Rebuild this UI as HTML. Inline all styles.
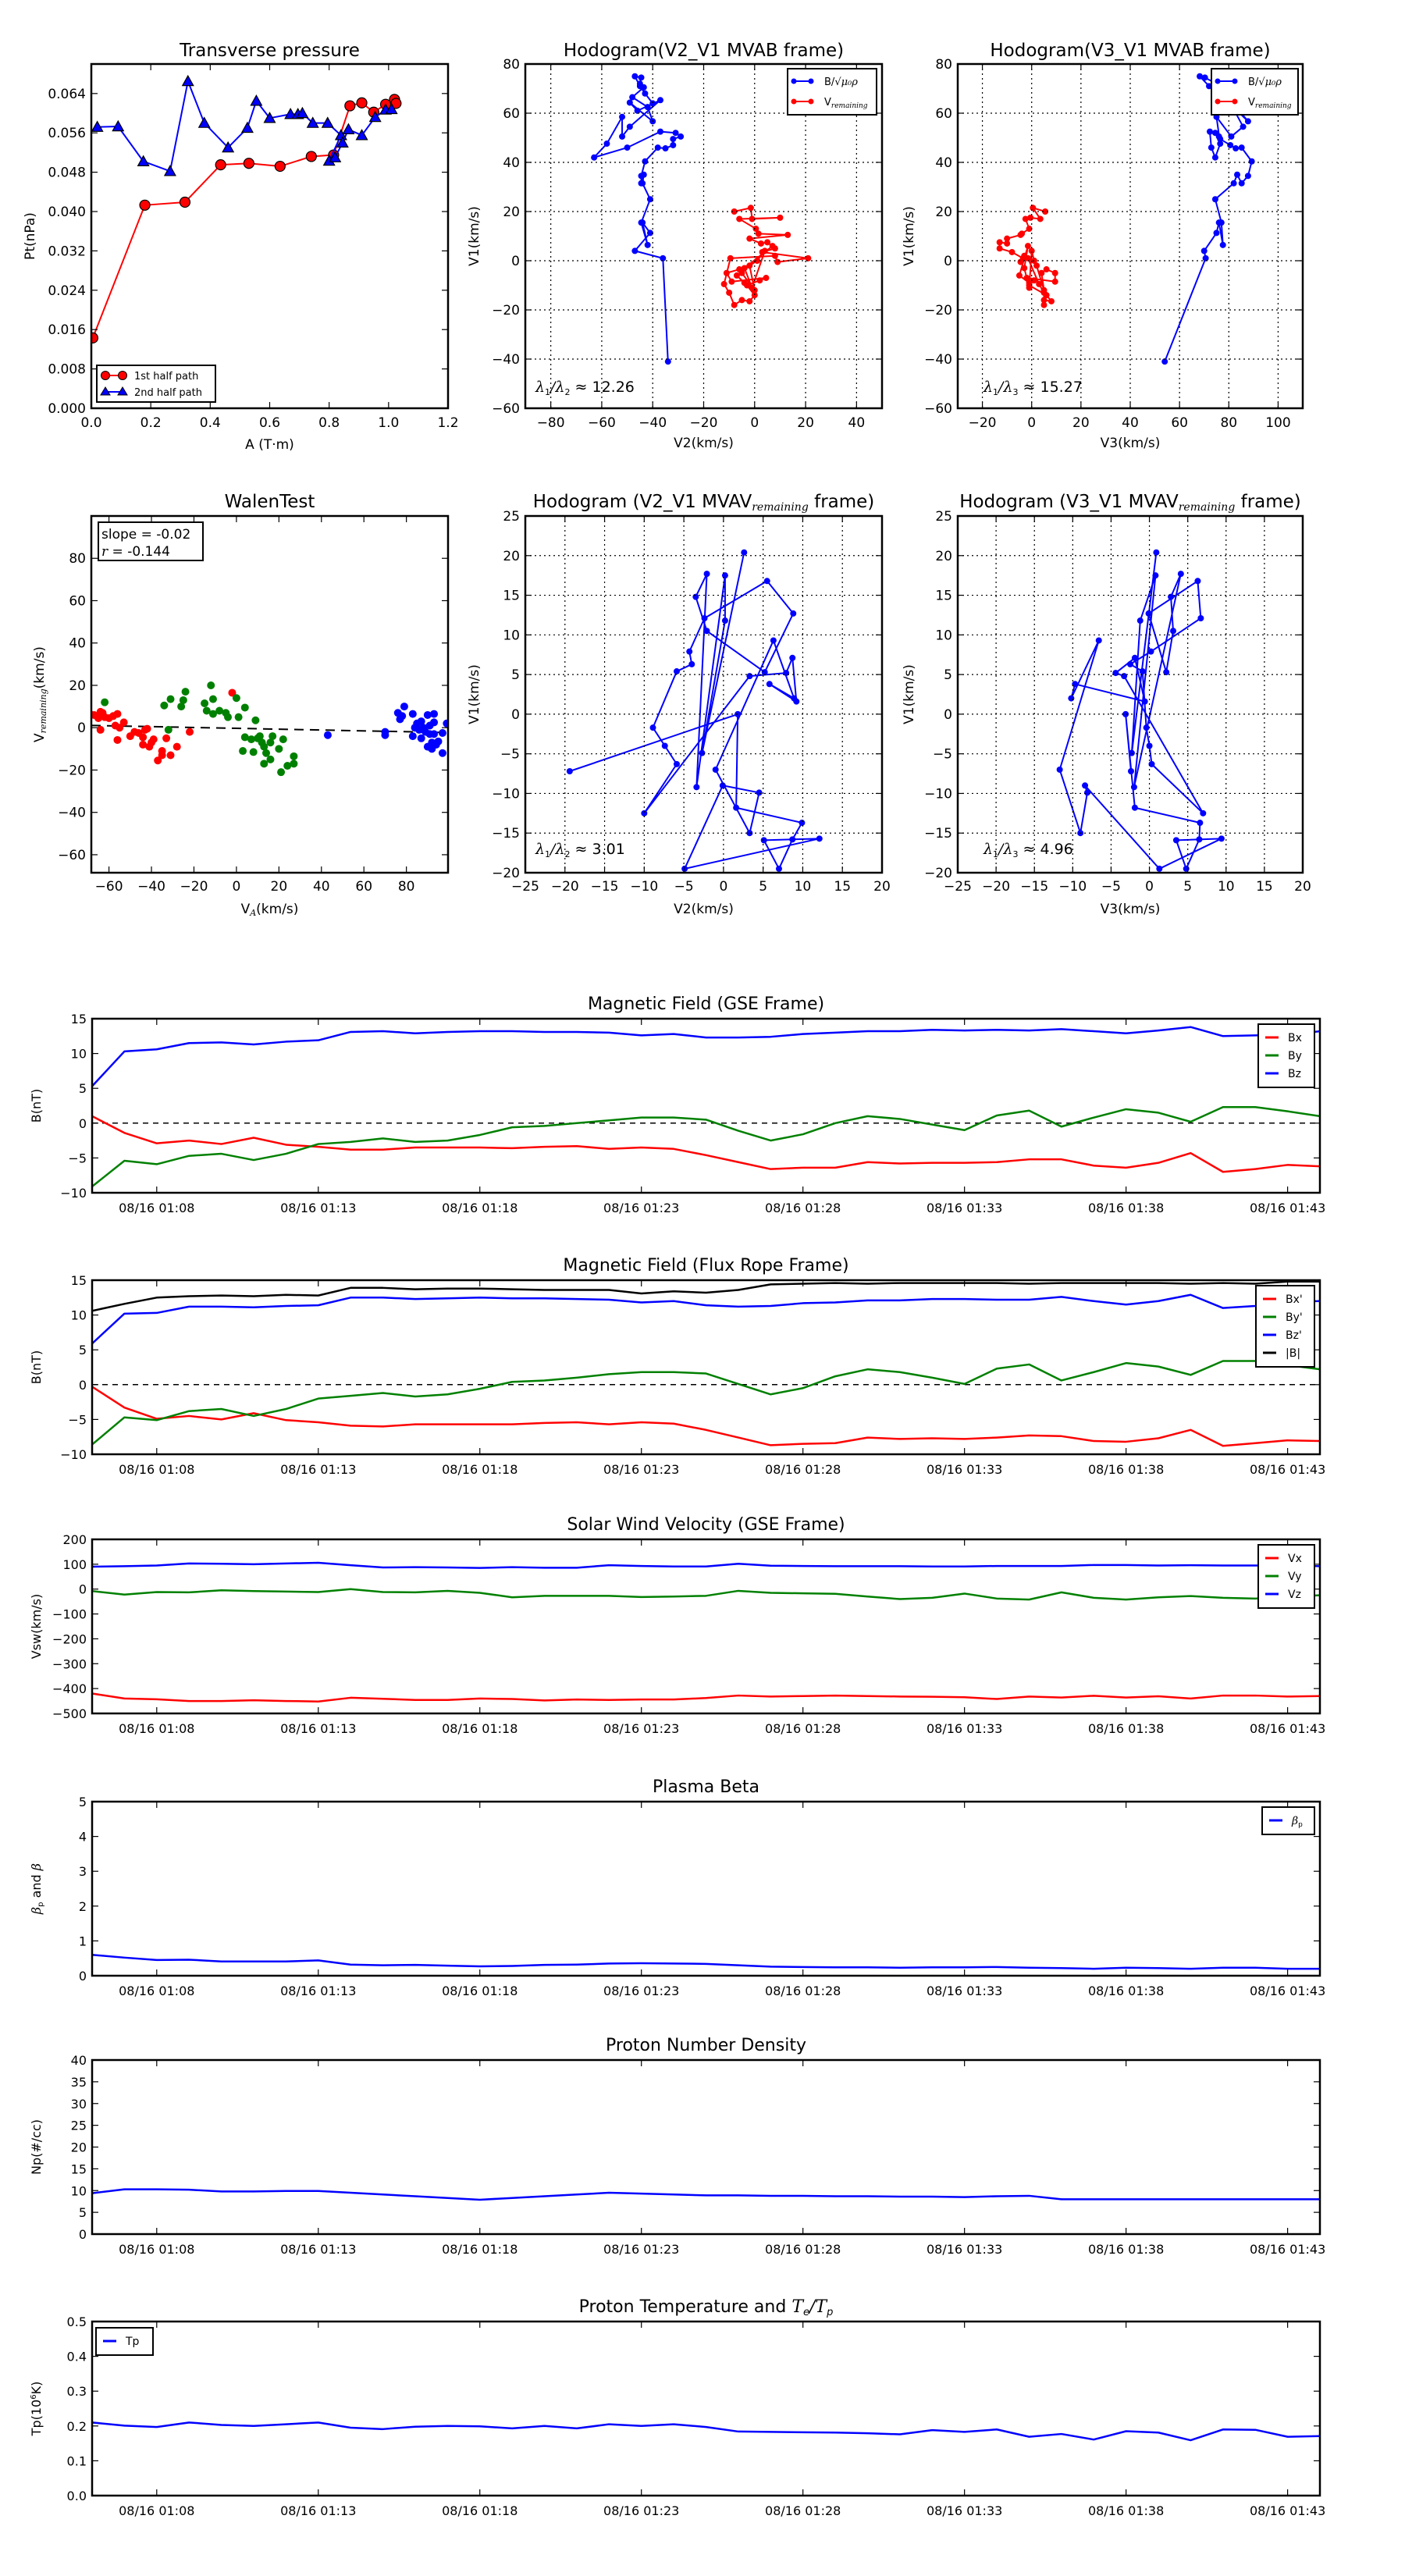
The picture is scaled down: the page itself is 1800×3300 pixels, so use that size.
<!DOCTYPE html>
<html><head><meta charset="utf-8"><style>
html,body{margin:0;padding:0;background:#fff}
svg{display:block;font-family:"DejaVu Sans","Liberation Sans",sans-serif}
</style></head><body>
<svg id="fig" xmlns="http://www.w3.org/2000/svg" width="1800" height="3300" viewBox="0 0 1800 3300">
<rect width="1800" height="3300" fill="#fff"/>
</svg>
<script>
// ---------- DATA ----------
const ptRedA=[0.005,0.18,0.315,0.435,0.53,0.635,0.74,0.815,0.87,0.91,0.95,0.99,1.02,1.025];
const ptRedP=[0.0143,0.0413,0.0419,0.0495,0.0498,0.0492,0.0512,0.0515,0.0615,0.0621,0.0602,0.0618,0.0628,0.0620];
const ptBlueA=[0.02,0.09,0.175,0.265,0.325,0.38,0.46,0.525,0.555,0.60,0.67,0.695,0.71,0.745,0.795,0.84,0.80,0.82,0.845,0.865,0.91,0.955,0.99,1.01];
const ptBlueP=[0.0572,0.0573,0.0502,0.0482,0.0665,0.0580,0.0530,0.0570,0.0625,0.0590,0.0598,0.0598,0.0600,0.0580,0.0580,0.0555,0.0503,0.0510,0.0540,0.0567,0.0555,0.0592,0.0607,0.0608];

const hbV1=[-41,1,4,11.3,15.5,6.4,15.5,25,31.5,35,31.5,34.5,40.4,46,45.7,47,49.5,50.5,52,52.5,46,42,47.6,58.5,50.5,54.5,65.3,61,64.3,56.7,62.5,66.5,70.5,72,74.5,75,71,68,64];
const hbV2=[-34,-36,-47,-41,-44,-42,-44.5,-41,-44,-43.5,-44.5,-44.5,-43,-38,-35,-32,-32,-29,-31,-37,-50,-63,-58,-52,-52,-49,-37,-46,-49,-40,-42,-48,-43.5,-45,-44.5,-47,-45,-43,-40];
const hbV3=[54,70.6,70,75,76,77.6,77,74.5,82,83.4,85.2,87.8,89.3,85.2,82.8,80.6,76.5,76,74.5,72.3,72.9,74.5,76.5,75,81,85.8,80,78,80,87.8,83,78,76,75,70.3,68.2,72,76,80];
const hrV1=[20,21.5,17,17.5,17,13,11,10.5,9,7,7.5,5,3.5,1,-0.5,2,1,-9.5,-13,-18,-16,-16.5,-14,-10,-8,-7,-8.5,-5,-3.5,-5,-12,-2,0,4,-11,-3,6,-6,-9];
const hrV2=[-8,-1.5,-1,10,-6,0.5,1.5,13,-2,2.5,5,8,3,21,9,8,-9.5,-12,-10,-8,-5,-2,0,-3,2,4.5,-9,-11,-6,-5,0,-2,1,4,-1,-4,7,-7,-4];
const hrV3=[5.5,0.5,3.5,-0.5,-2.5,-1,-4,-4.5,-10,-10,-13,-13,-8,-3.5,-4.5,-3,-1.5,3,5,5,5,8,6,-1,1,-2,9.5,9.5,6,4,5,2,1,0,-1,-3,-1.5,-5,-1];

const mvV1=[-7.2,0,-11.8,-13.7,-15.8,-19.5,-15.9,-15.7,-19.5,-9,-9.9,-15,-7,9.3,2.0,3.8,1.6,7.1,5.2,4.8,-12.5,-6.3,-4,-1.7,5.4,6.3,7.9,12.1,16.8,12.7,5.3,10.5,14.8,17.7,-9.2,17.5,11.8,-4.9,20.4];
const mvV2=[-19.4,1.8,1.6,9.9,8.7,7,5.1,12.1,-4.9,-0.1,4.5,3.3,-1,6.3,8.9,5.8,9.2,8.7,7.9,3.3,-10,-5.9,-7.4,-8.9,-5.9,-4.0,-4.3,-2.4,5.5,8.8,5.2,-2.1,-3.5,-2.1,-3.4,0.2,0.2,-2.7,2.6];
const mvV3=[-2.4,-3.1,-1.9,6.6,6.5,4.8,3.5,9.4,1.3,-8.4,-8.1,-9,-11.7,-6.6,-10.2,-9.7,-0.6,-1.9,-4.4,-3.3,7.0,0.3,0,-0.4,-0.9,-2.5,0.2,6.7,6.3,-0.1,2.2,3.1,2.8,4.1,-2,0.8,-1.2,-2.3,0.9];

const wRedX=[-69,-67,-65,-64,-63,-62,-60,-58,-57,-56,-55,-56,-64,-53,-50,-48,-46,-44,-43,-42,-44,-41,-40,-39,-37,-35,-35,-33,-31,-28,-22,-2];
const wRedY=[6.5,6,4.5,7.5,7,5,4.5,5.5,1,6.5,0,-5.8,-1,2.5,-4,-2,-2.5,-4.5,-1,-0.5,-8,-9,-7,-5.5,-15.5,-13,-11,-5,-13,-9,-2,16.5];
const wGreenX=[-62,-34,-31,-32,-26,-25,-24,-15,-14,-12,-11,-11,-8,-5,-4,0,1,4,4,3,7,8,9,10,11,12,13,14,13,16,17,16,20,22,21,24,27,27];
const wGreenY=[12,10.5,13.5,-1,10,13,17,11.5,8,20,13.5,6.5,8,7,5,14,5,9.5,-4.5,-11,-5.5,-11.5,3.5,-5,-4,-7,-9,-12,-17,-7,-4,-15,-10,-5.5,-21,-18,-13.5,-17];
const wBlueX=[43,70,70,76,77,79,78,83,83,84,85,86,87,87,88,89,90,90,91,91,92,92,93,93,93,94,95,97,97,99];
const wBlueY=[-3.5,-2,-3.5,7,4,10,5.5,6.5,-4,0,2,-1,3,-5,0,-2,6,-9,1,-3,-10,-7,6.5,2.5,-3,-8,-6.5,-2.5,-12,2];
const walenSlope=-0.02, walenIntercept=-0.3;

const timeLabels=["08/16 01:08","08/16 01:13","08/16 01:18","08/16 01:23","08/16 01:28","08/16 01:33","08/16 01:38","08/16 01:43"];
const timeTickIdx=[2,7,12,17,22,27,32,37];

const bxGSE=[1.0,-1.4,-2.9,-2.5,-3.0,-2.1,-3.1,-3.4,-3.8,-3.8,-3.5,-3.5,-3.5,-3.6,-3.4,-3.3,-3.7,-3.5,-3.7,-4.6,-5.6,-6.6,-6.4,-6.4,-5.6,-5.8,-5.7,-5.7,-5.6,-5.2,-5.2,-6.1,-6.4,-5.7,-4.3,-7.0,-6.6,-6.0,-6.2];
const byGSE=[-9.1,-5.4,-5.9,-4.7,-4.4,-5.3,-4.4,-3.0,-2.7,-2.2,-2.7,-2.5,-1.7,-0.6,-0.4,0.0,0.4,0.8,0.8,0.5,-1.1,-2.5,-1.6,0.0,1.0,0.6,-0.2,-1.0,1.1,1.8,-0.5,0.8,2.0,1.5,0.2,2.3,2.3,1.7,1.0];
const bzGSE=[5.3,10.3,10.6,11.5,11.6,11.3,11.7,11.9,13.1,13.2,12.9,13.1,13.2,13.2,13.1,13.1,13.0,12.6,12.8,12.3,12.3,12.4,12.8,13.0,13.2,13.2,13.4,13.3,13.4,13.3,13.5,13.2,12.9,13.3,13.8,12.5,12.6,12.7,13.2];

const bxFR=[-0.3,-3.3,-4.9,-4.5,-5.0,-4.1,-5.1,-5.4,-5.9,-6.0,-5.7,-5.7,-5.7,-5.7,-5.5,-5.4,-5.7,-5.4,-5.6,-6.5,-7.6,-8.7,-8.5,-8.4,-7.6,-7.8,-7.7,-7.8,-7.6,-7.3,-7.4,-8.1,-8.2,-7.7,-6.5,-8.8,-8.4,-8.0,-8.1];
const byFR=[-8.6,-4.7,-5.1,-3.8,-3.5,-4.5,-3.5,-2.0,-1.6,-1.2,-1.7,-1.4,-0.6,0.4,0.6,1.0,1.5,1.8,1.8,1.6,0.1,-1.4,-0.5,1.2,2.2,1.8,1.0,0.1,2.3,2.9,0.6,1.8,3.1,2.6,1.4,3.4,3.4,2.8,2.2];
const bzFR=[5.9,10.2,10.3,11.2,11.2,11.1,11.3,11.4,12.5,12.5,12.3,12.4,12.5,12.4,12.4,12.3,12.2,11.8,12.0,11.4,11.2,11.3,11.7,11.8,12.1,12.1,12.3,12.3,12.2,12.2,12.6,12.0,11.5,12.0,12.9,11.0,11.3,11.9,12.0];
const btFR=[10.6,11.6,12.5,12.7,12.8,12.7,12.9,12.8,13.9,13.9,13.7,13.8,13.8,13.7,13.6,13.6,13.6,13.1,13.4,13.2,13.6,14.4,14.5,14.6,14.5,14.6,14.6,14.6,14.6,14.5,14.6,14.6,14.6,14.6,14.5,14.6,14.5,14.8,14.8];

const vxGSE=[-420,-440,-443,-450,-450,-447,-450,-452,-437,-441,-446,-446,-440,-442,-448,-444,-446,-444,-444,-438,-428,-432,-430,-428,-430,-432,-433,-435,-442,-432,-436,-429,-436,-431,-440,-428,-428,-432,-430];
const vyGSE=[-8,-22,-12,-13,-5,-8,-10,-12,0,-12,-13,-7,-15,-33,-27,-27,-27,-32,-30,-27,-7,-15,-17,-19,-30,-40,-35,-18,-38,-42,-13,-35,-42,-33,-28,-35,-38,-30,-25];
const vzGSE=[90,92,95,103,102,100,103,106,96,87,88,87,85,88,86,86,96,93,91,91,102,94,93,92,92,92,91,91,93,93,93,97,97,95,96,95,95,95,92];

const betaP=[0.6,0.52,0.45,0.46,0.41,0.41,0.41,0.44,0.32,0.30,0.31,0.29,0.27,0.28,0.31,0.32,0.35,0.36,0.35,0.34,0.30,0.26,0.25,0.24,0.24,0.23,0.24,0.24,0.25,0.23,0.22,0.20,0.23,0.22,0.20,0.23,0.23,0.20,0.20];
const npData=[9.4,10.3,10.3,10.2,9.8,9.8,9.9,9.9,9.5,9.1,8.7,8.3,7.9,8.3,8.7,9.1,9.5,9.3,9.1,8.9,8.9,8.8,8.8,8.7,8.7,8.6,8.6,8.5,8.7,8.8,8.0,8.0,8.0,8.0,8.0,8.0,8.0,8.0,8.0];
const tpData=[0.21,0.201,0.197,0.21,0.203,0.2,0.205,0.21,0.195,0.191,0.198,0.2,0.199,0.193,0.2,0.193,0.205,0.2,0.205,0.197,0.184,0.183,0.182,0.181,0.179,0.176,0.188,0.183,0.19,0.169,0.177,0.161,0.185,0.181,0.159,0.19,0.189,0.169,0.171];

// ---------- HELPERS ----------
const NS="http://www.w3.org/2000/svg";
const root=document.getElementById('fig');
function mk(tag,attrs,parent){const e=document.createElementNS(NS,tag);for(const k in attrs)e.setAttribute(k,attrs[k]);(parent||root).appendChild(e);return e;}
function txt(x,y,s,size,parent,anchor,extra){const t=mk('text',Object.assign({x:x,y:y,'font-size':size,'text-anchor':anchor||'middle',fill:'#000'},extra||{}),parent);t.textContent=s;return t;}
function lin(a,b,c,d){return v=>c+(v-a)*(d-c)/(b-a);}

function axes(name,x0,y0,w,h,xr,yr,opt){
  const g=mk('g',{});
  
  
  const sx=lin(xr[0],xr[1],x0,x0+w), sy=lin(yr[0],yr[1],y0+h,y0);
  const clipId='c'+name;
  const cp=mk('clipPath',{id:clipId},g);mk('rect',{x:x0,y:y0,width:w,height:h},cp);
  const plot=mk('g',{'clip-path':'url(#'+clipId+')'},g);
  
  
  const tl=opt.tickLen||8;
  // grid + ticks
  (opt.xticks||[]).forEach((v,i)=>{const X=sx(v);
    if(opt.grid){const gl=mk('line',{x1:X,x2:X,y1:y0,y2:y0+h,stroke:'#000','stroke-width':1.2,'stroke-dasharray':'2,4'},g);}
    mk('line',{x1:X,x2:X,y1:y0+h,y2:y0+h-tl,stroke:'#000','stroke-width':1.2},g);
    mk('line',{x1:X,x2:X,y1:y0,y2:y0+tl,stroke:'#000','stroke-width':1.2},g);
    const lab=opt.xlabels?opt.xlabels[i]:String(v).replace('-','\u2212');
    const t=txt(X,y0+h+(opt.xlabOff||24),lab,opt.tickSize||17,g);
    
    
  });
  (opt.yticks||[]).forEach((v,i)=>{const Y=sy(v);
    if(opt.grid){const gl=mk('line',{x1:x0,x2:x0+w,y1:Y,y2:Y,stroke:'#000','stroke-width':1.2,'stroke-dasharray':'2,4'},g);}
    mk('line',{x1:x0,x2:x0+tl,y1:Y,y2:Y,stroke:'#000','stroke-width':1.2},g);
    mk('line',{x1:x0+w,x2:x0+w-tl,y1:Y,y2:Y,stroke:'#000','stroke-width':1.2},g);
    const lab=opt.ylabels?opt.ylabels[i]:String(v).replace('-','\u2212');
    const t=txt(x0-(opt.ylabOff||7),Y+6,lab,opt.tickSize||17,g,'end');
    
    
  });
  const fr=mk('rect',{x:x0,y:y0,width:w,height:h,fill:'none',stroke:'#000','stroke-width':opt.frameW||2.5},g);
  
  
  if(opt.title){const t=txt(x0+w/2,opt.titleY,'',opt.titleSize||23,g);t.innerHTML=opt.title;}
  if(opt.xlabel){const t=txt(x0+w/2,opt.xlabelY,'',17,g);t.innerHTML=opt.xlabel;}
  if(opt.ylabel){const cx=opt.ylabelX,cy=y0+h/2;const t=txt(cx,cy,'',opt.ylabelSize||17,g,'middle',{transform:'rotate(-90 '+cx+' '+cy+')'});t.innerHTML=opt.ylabel;}
  return {g,plot,sx,sy};
}
function polyline(ax,xs,ys,color,w,name){const p=mk('polyline',{points:xs.map((x,i)=>ax.sx(x)+','+ax.sy(ys[i])).join(' '),fill:'none',stroke:color,'stroke-width':w,'stroke-linejoin':'round'},ax.plot);return p;}
function dots(ax,xs,ys,color,r,name,stroke){xs.forEach((x,i)=>{const c=mk('circle',{cx:ax.sx(x),cy:ax.sy(ys[i]),r:r,fill:color,stroke:stroke||'none','stroke-width':1.2},ax.plot);});}
function tris(ax,xs,ys,color,s,name){xs.forEach((x,i)=>{const X=ax.sx(x),Y=ax.sy(ys[i]);const p=mk('polygon',{points:(X)+','+(Y-s)+' '+(X-s)+','+(Y+s*0.8)+' '+(X+s)+','+(Y+s*0.8),fill:color,stroke:'#000','stroke-width':1.2},ax.plot);});}
function range(a,b,s){const r=[];for(let v=a;v<=b+1e-9;v+=s)r.push(Math.round(v*1e6)/1e6);return r;}
function legendBox(x,y,w,h,name){const g=mk('g',{});mk('rect',{x:x,y:y,width:w,height:h,fill:'#fff',stroke:'#000','stroke-width':2},g);return g;}

// ---------- ROW 1 ----------
const tp=axes('transverse-pressure-chart',117,82,457,441,[0,1.2],[0,0.07],{xticks:range(0,1.2,0.2),xlabels:['0.0','0.2','0.4','0.6','0.8','1.0','1.2'],yticks:range(0,0.064,0.008),ylabels:range(0,0.064,0.008).map(v=>v.toFixed(3)),title:'Transverse pressure',titleY:72,xlabel:'A (T\u00b7m)',xlabelY:575,ylabel:'Pt(nPa)',ylabelX:44});
polyline(tp,ptRedA,ptRedP,'#f00',2,'first-half-path-line');
dots(tp,ptRedA,ptRedP,'#f00',6.5,'first-half-path-point','#000');
polyline(tp,ptBlueA,ptBlueP,'#00f',2,'second-half-path-line');
tris(tp,ptBlueA,ptBlueP,'#00f',7,'second-half-path-point');
{const lg=legendBox(124,468,152,47,'pressure-legend');
 mk('line',{x1:135,x2:157,y1:481,y2:481,stroke:'#f00','stroke-width':2},lg);
 mk('circle',{cx:135,cy:481,r:5.5,fill:'#f00',stroke:'#000'},lg);mk('circle',{cx:157,cy:481,r:5.5,fill:'#f00',stroke:'#000'},lg);
 let t=txt(172,486,'1st half path',13,lg,'start');
 mk('line',{x1:135,x2:157,y1:502,y2:502,stroke:'#00f','stroke-width':2},lg);
 mk('polygon',{points:'135,496 129,506 141,506',fill:'#00f',stroke:'#000'},lg);mk('polygon',{points:'157,496 151,506 163,506',fill:'#00f',stroke:'#000'},lg);
 t=txt(172,507,'2nd half path',13,lg,'start');}

function hodoLegend(x,name){const lg=legendBox(x,88,x===1009?114:111,59,name);
 mk('line',{x1:x+8,x2:x+30,y1:104,y2:104,stroke:'#00f','stroke-width':2},lg);mk('circle',{cx:x+8,cy:104,r:3.5,fill:'#00f'},lg);mk('circle',{cx:x+30,cy:104,r:3.5,fill:'#00f'},lg);
 let t=txt(x+47,109,'',13,lg,'start');t.innerHTML='B/<tspan font-family="DejaVu Serif" font-style="italic">\u221a\u03bc\u2080\u03c1</tspan>';
 mk('line',{x1:x+8,x2:x+30,y1:130,y2:130,stroke:'#f00','stroke-width':2},lg);mk('circle',{cx:x+8,cy:130,r:3.5,fill:'#f00'},lg);mk('circle',{cx:x+30,cy:130,r:3.5,fill:'#f00'},lg);
 t=txt(x+47,135,'',13,lg,'start');t.innerHTML='V<tspan font-family="DejaVu Serif" font-style="italic" font-size="9" dy="3">remaining</tspan>';}
function lam(ax,x,y,a,b,val,name){const t=txt(x,y,'',19,ax.g,'start');t.innerHTML='<tspan font-family="DejaVu Serif" font-style="italic">\u03bb</tspan><tspan font-size="11" dy="4">'+a+'</tspan><tspan dy="-4" font-family="DejaVu Serif" font-style="italic">/\u03bb</tspan><tspan font-size="11" dy="4">'+b+'</tspan><tspan dy="-4"> \u2248 '+val+'</tspan>';}

const h1=axes('hodogram-v2-v1-mvab',673,82,457,441,[-90,50],[-60,80],{grid:true,xticks:range(-80,40,20),yticks:range(-60,80,20),title:'Hodogram(V2_V1 MVAB frame)',titleY:72,xlabel:'V2(km/s)',xlabelY:573,ylabel:'V1(km/s)',ylabelX:613});
polyline(h1,hbV2,hbV1,'#00f',2,'b-alfven-path');dots(h1,hbV2,hbV1,'#00f',4,'b-alfven-point');
polyline(h1,hrV2,hrV1,'#f00',2,'v-remaining-path');dots(h1,hrV2,hrV1,'#f00',4,'v-remaining-point');
hodoLegend(1009,'hodogram-mvab-v2-legend');lam(h1,686,502,'1','2','12.26','eigenvalue-ratio-label');

const h2=axes('hodogram-v3-v1-mvab',1227,82,442,441,[-30,110],[-60,80],{grid:true,xticks:range(-20,100,20),yticks:range(-60,80,20),title:'Hodogram(V3_V1 MVAB frame)',titleY:72,xlabel:'V3(km/s)',xlabelY:573,ylabel:'V1(km/s)',ylabelX:1170});
polyline(h2,hbV3,hbV1,'#00f',2,'b-alfven-path');dots(h2,hbV3,hbV1,'#00f',4,'b-alfven-point');
polyline(h2,hrV3,hrV1,'#f00',2,'v-remaining-path');dots(h2,hrV3,hrV1,'#f00',4,'v-remaining-point');
hodoLegend(1552,'hodogram-mvab-v3-legend');lam(h2,1260,502,'1','3','15.27','eigenvalue-ratio-label');

// ---------- ROW 2 ----------
const wt=axes('walen-test-chart',117,661,457,457,[-68.3,99.6],[-68.5,100],{xticks:range(-60,80,20),yticks:range(-60,80,20),title:'WalenTest',titleY:650,xlabel:'V<tspan font-family="DejaVu Serif" font-style="italic" font-size="11" dy="3">A</tspan><tspan dy="-3">(km/s)</tspan>',xlabelY:1170,ylabel:'V<tspan font-family="DejaVu Serif" font-style="italic" font-size="11" dy="3">remaining</tspan><tspan dy="-3">(km/s)</tspan>',ylabelX:56,xlabOff:23});
{const xa=-68.3,xb=99.6;const l=mk('line',{x1:wt.sx(xa),y1:wt.sy(walenSlope*xa+walenIntercept),x2:wt.sx(xb),y2:wt.sy(walenSlope*xb+walenIntercept),stroke:'#000','stroke-width':2,'stroke-dasharray':'12,8'},wt.plot);}
dots(wt,wRedX,wRedY,'#f00',5,'walen-red-point');dots(wt,wGreenX,wGreenY,'#008000',5,'walen-green-point');dots(wt,wBlueX,wBlueY,'#00f',5,'walen-blue-point');
{const lg=legendBox(126,669,134,49,'walen-stats-box');
 let t=txt(130,690,'slope = -0.02',17,lg,'start');
 t=txt(130,712,'',17,lg,'start');t.innerHTML='<tspan font-family="DejaVu Serif" font-style="italic">r</tspan> = -0.144';}

const m1=axes('hodogram-v2-v1-mvav',673,661,457,457,[-25,20],[-20,25],{grid:true,xticks:range(-25,20,5),yticks:range(-20,25,5),title:'Hodogram (V2_V1 MVAV<tspan font-family="DejaVu Serif" font-style="italic" font-size="14" dy="4">remaining</tspan><tspan dy="-4"> frame)</tspan>',titleY:650,xlabel:'V2(km/s)',xlabelY:1170,ylabel:'V1(km/s)',ylabelX:613,xlabOff:23});
polyline(m1,mvV2,mvV1,'#00f',2,'mvav-path');dots(m1,mvV2,mvV1,'#00f',4,'mvav-point');
lam(m1,686,1094,'1','2','3.01','eigenvalue-ratio-label');
const m2=axes('hodogram-v3-v1-mvav',1227,661,442,457,[-25,20],[-20,25],{grid:true,xticks:range(-25,20,5),yticks:range(-20,25,5),title:'Hodogram (V3_V1 MVAV<tspan font-family="DejaVu Serif" font-style="italic" font-size="14" dy="4">remaining</tspan><tspan dy="-4"> frame)</tspan>',titleY:650,xlabel:'V3(km/s)',xlabelY:1170,ylabel:'V1(km/s)',ylabelX:1170,xlabOff:23});
polyline(m2,mvV3,mvV1,'#00f',2,'mvav-path');dots(m2,mvV3,mvV1,'#00f',4,'mvav-point');
lam(m2,1260,1094,'1','3','4.96','eigenvalue-ratio-label');

// ---------- TIME SERIES ----------
const idx=bxGSE.map((_,i)=>i);
function tsAxes(name,top,yr,yt,ylabs,title,ylabel){return axes(name,118,top,1573,223,[0,38],yr,{xticks:timeTickIdx,xlabels:timeLabels,yticks:yt,ylabels:ylabs,title:title,titleY:top-12,titleSize:22,ylabel:ylabel,ylabelX:52,ylabelSize:16,tickSize:16,xlabOff:25,frameW:2.5});}
function tsLegend(x,y,w,entries,name){const lg=legendBox(x,y,w,entries.length*23+12,name);entries.forEach((e,i)=>{const Y=y+17+i*23;mk('line',{x1:x+9,x2:x+26,y1:Y,y2:Y,stroke:e[1],'stroke-width':3},lg);const t=txt(x+38,Y+5,'',14,lg,'start');t.innerHTML=e[0];});}
function zeroLine(ax){const l=mk('line',{x1:ax.sx(0),x2:ax.sx(38),y1:ax.sy(0),y2:ax.sy(0),stroke:'#000','stroke-width':1.5,'stroke-dasharray':'7,6'},ax.plot);}

const bg=tsAxes('b-gse-chart',1305,[-10,15],range(-10,15,5),null,'Magnetic Field (GSE Frame)','B(nT)');
zeroLine(bg);
polyline(bg,idx,bxGSE,'#f00',2.5,'bx-line');polyline(bg,idx,byGSE,'#008000',2.5,'by-line');polyline(bg,idx,bzGSE,'#00f',2.5,'bz-line');
tsLegend(1612,1312,72,[['Bx','#f00'],['By','#008000'],['Bz','#00f']],'b-gse-legend');

const bf=tsAxes('b-flux-rope-chart',1640,[-10,15],range(-10,15,5),null,'Magnetic Field (Flux Rope Frame)','B(nT)');
zeroLine(bf);
polyline(bf,idx,bxFR,'#f00',2.5,'bx-prime-line');polyline(bf,idx,byFR,'#008000',2.5,'by-prime-line');polyline(bf,idx,bzFR,'#00f',2.5,'bz-prime-line');polyline(bf,idx,btFR,'#000',2.5,'b-total-line');
tsLegend(1609,1647,75,[["Bx'",'#f00'],["By'",'#008000'],["Bz'",'#00f'],['|B|','#000']],'b-flux-rope-legend');

const vg=tsAxes('velocity-gse-chart',1972,[-500,200],range(-500,200,100),null,'Solar Wind Velocity (GSE Frame)','Vsw(km/s)');
polyline(vg,idx,vxGSE,'#f00',2.5,'vx-line');polyline(vg,idx,vyGSE,'#008000',2.5,'vy-line');polyline(vg,idx,vzGSE,'#00f',2.5,'vz-line');
tsLegend(1612,1979,72,[['Vx','#f00'],['Vy','#008000'],['Vz','#00f']],'velocity-legend');

const pb=tsAxes('plasma-beta-chart',2308,[0,5],range(0,5,1),null,'Plasma Beta','<tspan font-family="DejaVu Serif" font-style="italic">\u03b2</tspan><tspan font-size="10" dy="3">p</tspan><tspan dy="-3"> and </tspan><tspan font-family="DejaVu Serif" font-style="italic">\u03b2</tspan>');
polyline(pb,idx,betaP,'#00f',2.5,'beta-p-line');
tsLegend(1617,2315,67,[['<tspan font-family="DejaVu Serif" font-style="italic">\u03b2</tspan><tspan font-size="9" dy="3">p</tspan>','#00f']],'beta-legend');

const np=tsAxes('proton-density-chart',2639,[0,40],range(0,40,5),null,'Proton Number Density','Np(#/cc)');
polyline(np,idx,npData,'#00f',2.5,'np-line');

const tpc=tsAxes('proton-temperature-chart',2974,[0,0.5],range(0,0.5,0.1),['0.0','0.1','0.2','0.3','0.4','0.5'],'Proton Temperature and <tspan font-family="DejaVu Serif" font-style="italic">T</tspan><tspan font-size="13" dy="4" font-style="italic">e</tspan><tspan dy="-4" font-family="DejaVu Serif" font-style="italic">/T</tspan><tspan font-size="13" dy="4" font-style="italic">p</tspan>','Tp(10<tspan font-size="10" dy="-6">6</tspan><tspan dy="6">K)</tspan>');
polyline(tpc,idx,tpData,'#00f',2.5,'tp-line');
tsLegend(123,2982,73,[['Tp','#00f']],'tp-legend');
</script>
</body></html>
